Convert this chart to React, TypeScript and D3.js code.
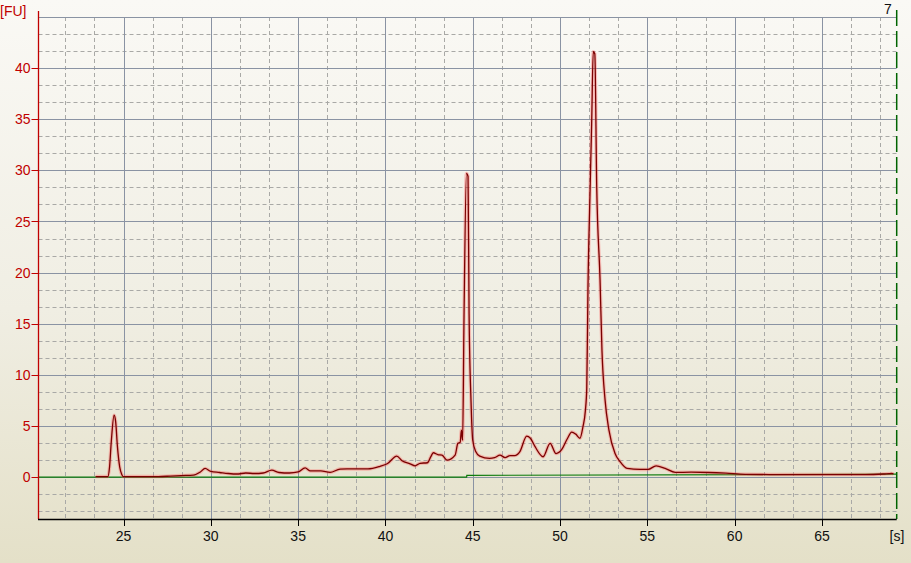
import { useEffect, useRef } from 'react';
import * as d3 from 'd3';

// electropherogram trace
const traceTime = [
  23.4, 24.1, 24.2, 24.3, 24.46, 24.55, 24.65, 24.78, 24.9, 24.98,
  26.0, 27.0, 27.7, 28.3, 29.0, 29.4, 29.67, 30.0, 30.5, 31.0,
  31.5, 32.0, 32.5, 33.0, 33.49, 33.9, 34.5, 35.0, 35.4, 35.7,
  36.3, 36.83, 37.4, 37.8, 38.5, 39.0, 39.69, 40.1, 40.65, 40.95,
  41.41, 41.7, 41.98, 42.4, 42.6, 42.74, 43.0, 43.24, 43.53, 43.99,
  44.15, 44.28, 44.35, 44.42, 44.5, 44.64, 44.73, 44.79, 44.9, 45.0,
  45.17, 45.4, 45.96, 46.25, 46.56, 46.85, 47.13, 47.4, 47.7, 48.09,
  48.3, 48.57, 49.03, 49.43, 49.77, 50.1, 50.4, 50.67, 50.9, 51.14,
  51.31, 51.45, 51.53, 51.6, 51.71, 51.81, 51.9, 51.99, 52.1, 52.29,
  52.4, 52.58, 52.8, 53.15, 53.44, 53.84, 54.58, 55.04, 55.5, 56.02,
  56.6, 57.5, 58.5, 59.5, 60.6, 62.0, 64.0, 66.0, 67.5, 68.5,
  69.0, 69.1
];
const traceFU = [
  0.05, 0.05, 1.0, 3.5, 6.05, 5.4, 3.0, 1.0, 0.25, 0.05,
  0.05, 0.05, 0.1, 0.15, 0.2, 0.5, 0.85, 0.55, 0.45, 0.35,
  0.3, 0.4, 0.35, 0.4, 0.68, 0.45, 0.4, 0.5, 0.9, 0.6,
  0.6, 0.46, 0.78, 0.8, 0.8, 0.8, 1.05, 1.3, 2.05, 1.6,
  1.3, 1.1, 1.35, 1.4, 2.0, 2.38, 2.2, 2.15, 1.66, 2.15,
  3.3, 3.4, 4.6, 3.6, 15.7, 29.7, 29.4, 16.0, 7.5, 3.6,
  2.5, 2.05, 1.83, 1.9, 2.15, 1.9, 2.1, 2.1, 2.5, 4.0,
  3.8, 2.97, 1.99, 3.3, 2.3, 2.7, 3.7, 4.4, 4.2, 3.8,
  4.9, 6.5, 8.7, 18.6, 27.4, 34.6, 41.6, 41.4, 28.4, 19.3,
  12.4, 7.5, 4.6, 2.3, 1.5, 0.85, 0.75, 0.75, 1.1, 0.85,
  0.46, 0.48, 0.45, 0.38, 0.27, 0.25, 0.25, 0.25, 0.25, 0.3,
  0.35, 0.3
];

// green baseline
const baseTime = [20.13, 44.65, 44.66, 69.28];
const baseFU = [0, 0, 0.17, 0.28];

const xTicks = [25, 30, 35, 40, 45, 50, 55, 60, 65];
const yTicks = [0, 5, 10, 15, 20, 25, 30, 35, 40];

const App = () => {
  const svgRef = useRef<SVGSVGElement>(null);

  useEffect(() => {
    const W = 911, H = 563;
    const left = 38.5, right = 896.7, top = 17, bottom = 519;

    const svg = d3.select(svgRef.current);
    svg.selectAll('*').remove();
    svg.attr('width', W).attr('height', H);

    const defs = svg.append('defs');
    const grad = defs.append('linearGradient')
      .attr('id', 'bg').attr('x1', 0).attr('y1', 0).attr('x2', 0).attr('y2', 1);
    grad.append('stop').attr('offset', '0%').attr('stop-color', '#faf9f5');
    grad.append('stop').attr('offset', '55%').attr('stop-color', '#f0eee3');
    grad.append('stop').attr('offset', '100%').attr('stop-color', '#e4e0c8');

    svg.append('rect').attr('width', W).attr('height', H).attr('fill', 'url(#bg)');

    const x = d3.scaleLinear().domain([20.13, 69.28]).range([left, right]);
    const y = d3.scaleLinear().domain([-4.1, 45]).range([bottom, top]);

    const grid = svg.append('g');
    // minor dashed grid, every 5/3
    const minorX = d3.range(0, 30).map(i => 20 + i * 5 / 3)
      .filter(v => v > 20.2 && v < 69.2 && Math.abs(v / 5 - Math.round(v / 5)) > 0.01);
    const minorY = d3.range(0, 31).map(i => -5 + i * 5 / 3)
      .filter(v => v > -4.05 && v < 45 && Math.abs(v / 5 - Math.round(v / 5)) > 0.01);

    grid.selectAll('.mx').data(minorX).enter().append('line')
      .attr('x1', d => Math.round(x(d)) + 0.5).attr('x2', d => Math.round(x(d)) + 0.5)
      .attr('y1', top).attr('y2', bottom)
      .attr('stroke', '#a9a9a6').attr('stroke-dasharray', '4,3');
    grid.selectAll('.my').data(minorY).enter().append('line')
      .attr('x1', left).attr('x2', right)
      .attr('y1', d => Math.round(y(d)) + 0.5).attr('y2', d => Math.round(y(d)) + 0.5)
      .attr('stroke', '#a9a9a6').attr('stroke-dasharray', '4,3');

    // major solid grid
    grid.selectAll('.Mx').data(xTicks).enter().append('line')
      .attr('x1', d => Math.round(x(d)) + 0.5).attr('x2', d => Math.round(x(d)) + 0.5)
      .attr('y1', top).attr('y2', bottom)
      .attr('stroke', '#8a93a3');
    grid.selectAll('.My').data([...yTicks, 45]).enter().append('line')
      .attr('x1', left).attr('x2', right)
      .attr('y1', d => Math.round(y(d)) + 0.5).attr('y2', d => Math.round(y(d)) + 0.5)
      .attr('stroke', '#8a93a3');

    // baseline
    const baseLine = d3.line<number>()
      .x((d, i) => x(baseTime[i]))
      .y(d => y(d));
    svg.append('path').attr('d', baseLine(baseFU))
      .attr('fill', 'none').attr('stroke', '#0a7a0a').attr('stroke-width', 1.2);

    // trace
    const traceLine = d3.line<number>()
      .x((d, i) => x(traceTime[i]))
      .y(d => y(d))
      .curve(d3.curveMonotoneX);
    svg.append('path').attr('d', traceLine(traceFU))
      .attr('fill', 'none').attr('stroke', '#ff5a5a').attr('stroke-opacity', 0.35)
      .attr('stroke-width', 3.5).attr('stroke-linejoin', 'round');
    svg.append('path').attr('d', traceLine(traceFU))
      .attr('fill', 'none').attr('stroke', '#7a0000').attr('stroke-width', 1.3)
      .attr('stroke-linejoin', 'round');

    // right marker line
    svg.append('line')
      .attr('x1', right).attr('x2', right).attr('y1', 10).attr('y2', bottom)
      .attr('stroke', '#006400').attr('stroke-width', 1.5).attr('stroke-dasharray', '16,5');

    // axes
    svg.append('line')
      .attr('x1', left).attr('x2', left).attr('y1', 11).attr('y2', bottom)
      .attr('stroke', '#c00000').attr('stroke-width', 1.3);
    svg.append('line')
      .attr('x1', left - 0.5).attr('x2', right).attr('y1', bottom + 0.5).attr('y2', bottom + 0.5)
      .attr('stroke', '#000').attr('stroke-width', 1.3);

    const font = '"Liberation Sans", Arial, sans-serif';

    const yAx = svg.append('g');
    yAx.selectAll('line').data(yTicks).enter().append('line')
      .attr('x1', left - 7).attr('x2', left)
      .attr('y1', d => Math.round(y(d)) + 0.5).attr('y2', d => Math.round(y(d)) + 0.5)
      .attr('stroke', '#c00000');
    yAx.selectAll('text').data(yTicks).enter().append('text')
      .attr('x', left - 8).attr('y', d => y(d)).attr('dy', '0.36em')
      .attr('text-anchor', 'end').attr('fill', '#c00000')
      .style('font-family', font).style('font-size', '14px')
      .text(d => d);

    const xAx = svg.append('g');
    xAx.selectAll('line').data(xTicks).enter().append('line')
      .attr('x1', d => Math.round(x(d)) + 0.5).attr('x2', d => Math.round(x(d)) + 0.5)
      .attr('y1', bottom).attr('y2', bottom + 7)
      .attr('stroke', '#000');
    xAx.selectAll('text').data(xTicks).enter().append('text')
      .attr('x', d => x(d)).attr('y', 541)
      .attr('text-anchor', 'middle').attr('fill', '#111')
      .style('font-family', font).style('font-size', '14px')
      .text(d => d);

    svg.append('text').attr('x', 0).attr('y', 16).attr('fill', '#c00000')
      .style('font-family', font).style('font-size', '14px').text('[FU]');
    svg.append('text').attr('x', 897).attr('y', 541).attr('text-anchor', 'middle')
      .attr('fill', '#111').style('font-family', font).style('font-size', '14px').text('[s]');
    svg.append('text').attr('x', 888).attr('y', 14).attr('text-anchor', 'middle')
      .attr('fill', '#111').style('font-family', font).style('font-size', '14px').text('7');
  }, []);

  return (
    <svg ref={svgRef} style={{ position: 'fixed', top: 0, left: 0, display: 'block' }} />
  );
};

export default App;
